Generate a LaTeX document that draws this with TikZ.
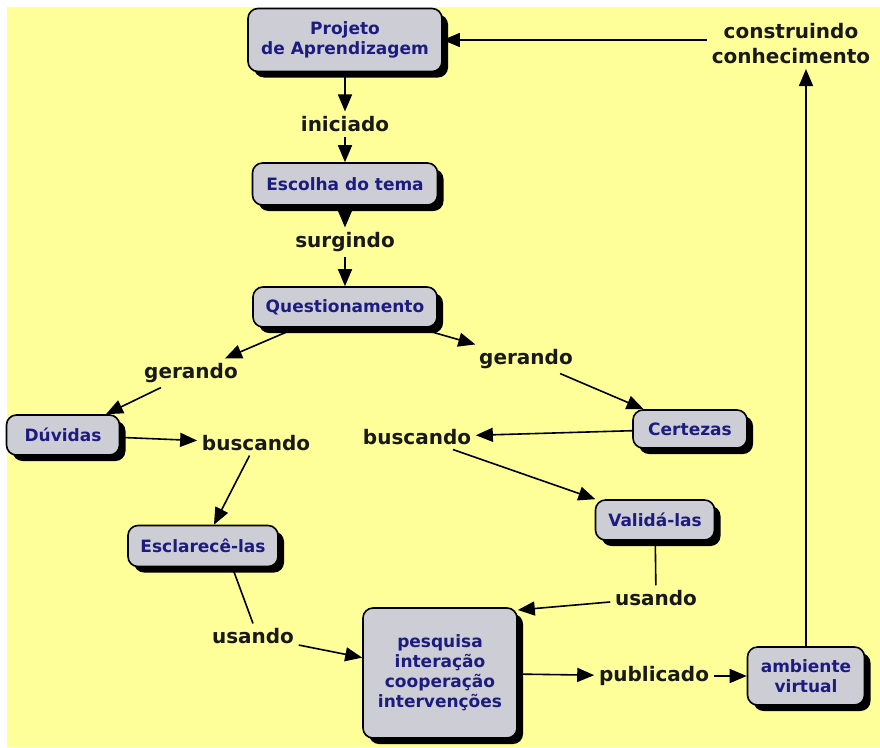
\documentclass[tikz,border=0pt]{standalone}
\usepackage{fontspec}
\setmainfont{DejaVu Sans}
\usetikzlibrary{arrows.meta}
\usetikzlibrary{shadows}
\definecolor{fundo}{HTML}{FFFF99}
\definecolor{caixa}{HTML}{CDCDD5}
\definecolor{azul}{HTML}{1C1C80}

\begin{document}
\begin{tikzpicture}[x=1pt, y=-1pt, line width=1.6pt, arrows={-Triangle[length=17pt,width=14pt]},
	conceito/.style={draw, fill=caixa, rounded corners=10pt, text=azul, align=center, inner sep=0pt,
		font=\bfseries\fontsize{17}{20}\selectfont,
		drop shadow={shadow xshift=6pt, shadow yshift=-6pt, fill=black, opacity=1}},
	ligacao/.style={text=black!90, align=center, inner sep=4pt, font=\bfseries\fontsize{20}{25}\selectfont}]
	\useasboundingbox (0,0) rectangle (880,747);
	\fill[white] (0,0) rectangle (880,747);
	\fill[fundo] (7,7) rectangle (880,747);

	\node[conceito, minimum width=194pt, minimum height=63pt] (P) at (345,40) {Projeto\\de Aprendizagem};
	\node[ligacao] (ini) at (345,124) {iniciado};
	\node[conceito, minimum width=185pt, minimum height=42pt] (E) at (345,184) {Escolha do tema};
	\node[ligacao] (sur) at (345,242) {surgindo};
	\node[conceito, minimum width=184pt, minimum height=40pt] (Q) at (345,307) {Questionamento};

	\node[ligacao] (gerL) at (191,373) {gerando};
	\node[ligacao] (gerR) at (526,359) {gerando};
	\node[conceito, minimum width=113pt, minimum height=40pt] (D) at (63,435) {Dúvidas};
	\node[conceito, minimum width=114pt, minimum height=38pt] (C) at (690,429) {Certezas};
	\node[ligacao] (busL) at (256,443) {buscando};
	\node[ligacao] (busR) at (417,437) {buscando};
	\node[conceito, minimum width=150pt, minimum height=41pt] (Es) at (203,546) {Esclarecê-las};
	\node[conceito, minimum width=119pt, minimum height=40pt] (V) at (655,520) {Validá-las};

	\node[ligacao] (usL) at (253,636) {usando};
	\node[ligacao] (usR) at (656,598) {usando};
	\node[conceito, minimum width=154pt, minimum height=130pt] (Pq) at (440,673) {pesquisa\\interação\\cooperação\\intervenções};
	\node[ligacao] (pub) at (654,676) {publicado};
	\node[conceito, minimum width=117pt, minimum height=58pt] (A) at (806,676) {ambiente\\virtual};
	\node[ligacao] (cons) at (791,44) {construindo\\conhecimento};

	\draw (P) -- (ini);
	\draw (ini) -- (E);
	\draw (E) -- (sur);
	\draw (sur) -- (Q);
	\draw (Q) -- (gerL);
	\draw (gerL) -- (D);
	\draw (Q) -- (gerR);
	\draw (gerR) -- (C);
	\draw (D) -- (busL);
	\draw (busL) -- (Es);
	\draw (C) -- (busR);
	\draw (busR) -- (V);
	\draw[-] (Es.-36) -- (usL.north);
	\draw (usL) -- (Pq);
	\draw[-] (V) -- (usR);
	\draw (usR) -- (Pq.39);
	\draw (Pq) -- (pub);
	\draw (pub) -- (A);
	\draw (A.north) -- (A.north |- cons.south);
	\draw (cons.west |- P) -- (P);
\end{tikzpicture}
\end{document}
